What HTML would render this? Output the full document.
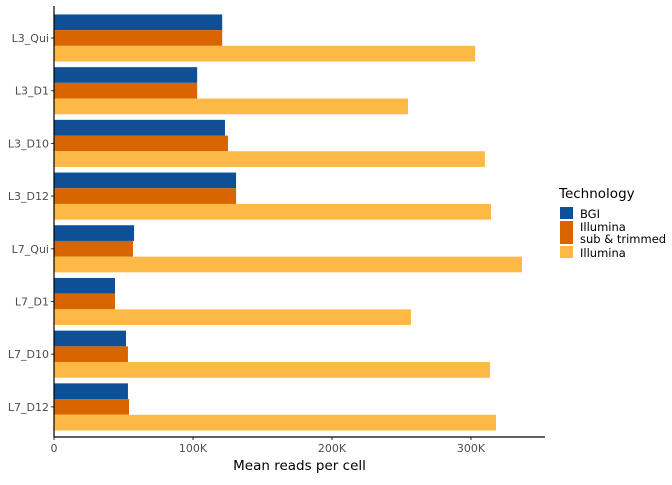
<!DOCTYPE html>
<html><head><meta charset="utf-8"><style>
body{margin:0;background:#fff;}
svg{font-family:"DejaVu Sans","Liberation Sans",sans-serif;}
</style></head><body>
<svg id="chart" width="672" height="480" xmlns="http://www.w3.org/2000/svg"></svg>
<script>
const categories = ["L3_Qui","L3_D1","L3_D10","L3_D12","L7_Qui","L7_D1","L7_D10","L7_D12"];
const bgiValues = [121000,103000,123000,131000,57600,43900,51800,53200];
const subValues = [121000,103000,125200,131000,56800,43900,53200,54000];
const illuminaValues = [303000,254700,310000,314400,336700,256800,313700,318000];
const xTicks = [0,100000,200000,300000];
const xTickLabels = ["0","100K","200K","300K"];
const seriesNames = ["BGI","Illumina sub & trimmed","Illumina"];
const colors = ["#0e4f96","#d96500","#fdb946"];

const NS="http://www.w3.org/2000/svg";
const svg=document.getElementById('chart');
const x0=54, xRight=545, yTop=6, yBot=437;
const xScale=v=>x0+v*139/100000;
const band=52.7;
const bandCenter=i=>38+band*i;
const barH=15.7;
function mk(tag,attrs){const e=document.createElementNS(NS,tag);for(const k in attrs)e.setAttribute(k,attrs[k]);svg.appendChild(e);return e;}

const all=[bgiValues,subValues,illuminaValues];
categories.forEach((c,i)=>{
  const cy=bandCenter(i);
  all.forEach((arr,s)=>{
    const r=mk('rect',{x:x0,y:cy-1.5*barH+s*barH,width:xScale(arr[i])-x0,height:barH,fill:colors[s]});
    
    
  });
  const tk=mk('line',{x1:x0-3,x2:x0,y1:cy,y2:cy,stroke:'#333'});
  
  
  const t=mk('text',{x:x0-5,y:cy+4,'text-anchor':'end','font-size':11,fill:'#4d4d4d'});
  t.textContent=c;
  
  
});
xTicks.forEach((v,i)=>{
  const x=xScale(v);
  const tk=mk('line',{x1:x,x2:x,y1:yBot,y2:yBot+3,stroke:'#333'});
  
  
  const t=mk('text',{x:x,y:yBot+15,'text-anchor':'middle','font-size':11,fill:'#4d4d4d'});
  t.textContent=xTickLabels[i];
  
  
});
const ya=mk('line',{x1:x0,x2:x0,y1:yTop,y2:yBot,stroke:'#000','stroke-width':1.2});


const xa=mk('line',{x1:x0,x2:xRight,y1:yBot,y2:yBot,stroke:'#000','stroke-width':1.2});


const xt=mk('text',{x:(x0+xRight)/2,y:470,'text-anchor':'middle','font-size':13.5,fill:'#000'});
xt.textContent="Mean reads per cell";



const lt=mk('text',{x:559,y:198,'font-size':13.5,fill:'#000'});
lt.textContent="Technology";


const keys=[[207,12],[221,23],[246,12]];
keys.forEach((k,s)=>{
  const r=mk('rect',{x:560,y:k[0],width:13,height:k[1],fill:colors[s]});
  
  
});
const labs=[[580,218,"BGI"],[580,231,"Illumina"],[580,243,"sub & trimmed"],[580,257,"Illumina"]];
labs.forEach(l=>{
  const t=mk('text',{x:l[0],y:l[1],'font-size':11.5,fill:'#000'});
  t.textContent=l[2];
  
  
});
</script>
</body></html>
